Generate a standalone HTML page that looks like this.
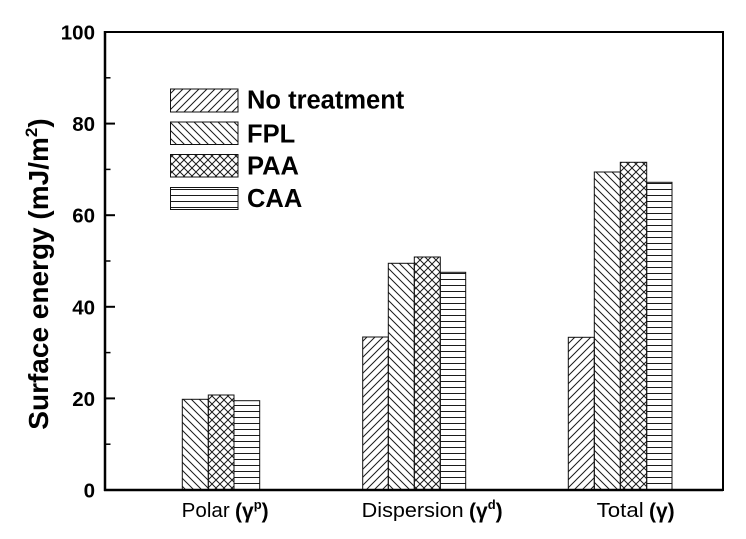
<!DOCTYPE html>
<html>
<head>
<meta charset="utf-8">
<style>
  html, body { margin: 0; padding: 0; background: #fff; }
  svg { display: block; }
  text { font-family: "Liberation Sans", Arial, sans-serif; fill: #000; }
</style>
</head>
<body>
<svg width="746" height="539" viewBox="0 0 746 539" xmlns="http://www.w3.org/2000/svg">
  <defs>
    <pattern id="pf" patternUnits="userSpaceOnUse" width="8" height="8">
      <path d="M0,8 L8,0 M-2,2 L2,-2 M6,10 L10,6" stroke="#1a1a1a" stroke-width="1" fill="none"/>
    </pattern>
    <pattern id="pb" patternUnits="userSpaceOnUse" width="8" height="8">
      <path d="M0,0 L8,8 M-2,6 L2,10 M6,-2 L10,2" stroke="#1a1a1a" stroke-width="1" fill="none"/>
    </pattern>
    <pattern id="px" patternUnits="userSpaceOnUse" width="8" height="8">
      <path d="M0,8 L8,0 M-2,2 L2,-2 M6,10 L10,6 M0,0 L8,8 M-2,6 L2,10 M6,-2 L10,2" stroke="#1a1a1a" stroke-width="1" fill="none"/>
    </pattern>
    <pattern id="ph" patternUnits="userSpaceOnUse" width="6" height="6">
      <path d="M0,3.5 H6" stroke="#1a1a1a" stroke-width="1" fill="none"/>
    </pattern>
  </defs>

  <rect x="0" y="0" width="746" height="539" fill="#fff"/>

  <!-- Bars: Polar -->
  <g stroke="#111" stroke-width="1">
    <rect x="182.3" y="399.3" width="26" height="90.7" fill="url(#pb)"/>
    <rect x="208.3" y="395" width="25.7" height="95" fill="url(#px)"/>
    <rect x="234" y="400.7" width="25.7" height="89.3" fill="url(#ph)"/>

    <!-- Dispersion -->
    <rect x="362.7" y="337" width="25.6" height="153" fill="url(#pf)"/>
    <rect x="388.3" y="263.3" width="26" height="226.7" fill="url(#pb)"/>
    <rect x="414.3" y="257" width="26" height="233" fill="url(#px)"/>
    <rect x="440.3" y="272.3" width="25.4" height="217.7" fill="url(#ph)"/>

    <!-- Total -->
    <rect x="568.3" y="337.3" width="26" height="152.7" fill="url(#pf)"/>
    <rect x="594.3" y="172" width="26" height="318" fill="url(#pb)"/>
    <rect x="620.3" y="162.3" width="26.4" height="327.7" fill="url(#px)"/>
    <rect x="646.7" y="182.3" width="25.3" height="307.7" fill="url(#ph)"/>
  </g>

  <!-- Axes frame -->
  <rect x="105" y="32" width="618" height="458" fill="none" stroke="#000" stroke-width="2"/>
  <line x1="105" y1="31" x2="105" y2="491" stroke="#000" stroke-width="2.5"/>
  <line x1="104" y1="490" x2="723" y2="490" stroke="#000" stroke-width="2.5"/>

  <!-- Y ticks -->
  <g stroke="#000" stroke-width="2">
    <line x1="105" y1="398.4" x2="115" y2="398.4"/>
    <line x1="105" y1="306.8" x2="115" y2="306.8"/>
    <line x1="105" y1="215.2" x2="115" y2="215.2"/>
    <line x1="105" y1="123.6" x2="115" y2="123.6"/>
  </g>
  <g stroke="#000" stroke-width="1.5">
    <line x1="105" y1="444.2" x2="110.5" y2="444.2"/>
    <line x1="105" y1="352.6" x2="110.5" y2="352.6"/>
    <line x1="105" y1="261" x2="110.5" y2="261"/>
    <line x1="105" y1="169.4" x2="110.5" y2="169.4"/>
    <line x1="105" y1="77.8" x2="110.5" y2="77.8"/>
  </g>

  <!-- Y tick labels -->
  <g font-size="20.5" font-weight="bold" text-anchor="end">
    <text x="95" y="497.5">0</text>
    <text x="95" y="405.9">20</text>
    <text x="95" y="314.3">40</text>
    <text x="95" y="222.7">60</text>
    <text x="95" y="131.1">80</text>
    <text x="95" y="39.5">100</text>
  </g>

  <!-- Y axis label -->
  <text transform="translate(48,274) rotate(-90)" text-anchor="middle" font-size="28" font-weight="bold">Surface energy (mJ/m<tspan font-size="17" dy="-11">2</tspan><tspan dy="11">)</tspan></text>

  <!-- X category labels -->
  <text x="181.7" y="517" font-size="20" textLength="48" lengthAdjust="spacingAndGlyphs">Polar</text>
  <text x="235" y="518" font-size="21" font-weight="bold">(γ<tspan font-size="13" dy="-9">p</tspan><tspan dy="9">)</tspan></text>

  <text x="361.7" y="517" font-size="20" textLength="102" lengthAdjust="spacingAndGlyphs">Dispersion</text>
  <text x="469" y="518" font-size="21" font-weight="bold">(γ<tspan font-size="13" dy="-9">d</tspan><tspan dy="9">)</tspan></text>

  <text x="596.7" y="517" font-size="20" textLength="47" lengthAdjust="spacingAndGlyphs">Total</text>
  <text x="649" y="518" font-size="21" font-weight="bold">(γ)</text>

  <!-- Legend -->
  <g stroke="#111" stroke-width="1">
    <rect x="170.5" y="89" width="67.5" height="23" fill="url(#pf)"/>
    <rect x="170.5" y="122" width="67.5" height="22.5" fill="url(#pb)"/>
    <rect x="170.5" y="154.5" width="67.5" height="22.5" fill="url(#px)"/>
    <rect x="170.5" y="187.5" width="67.5" height="22" fill="url(#ph)"/>
  </g>
  <g font-size="25.5" font-weight="bold">
    <text x="247" y="108.5">No treatment</text>
    <text x="247" y="142.5">FPL</text>
    <text x="247" y="174.5">PAA</text>
    <text x="247" y="207">CAA</text>
  </g>
</svg>
</body>
</html>
